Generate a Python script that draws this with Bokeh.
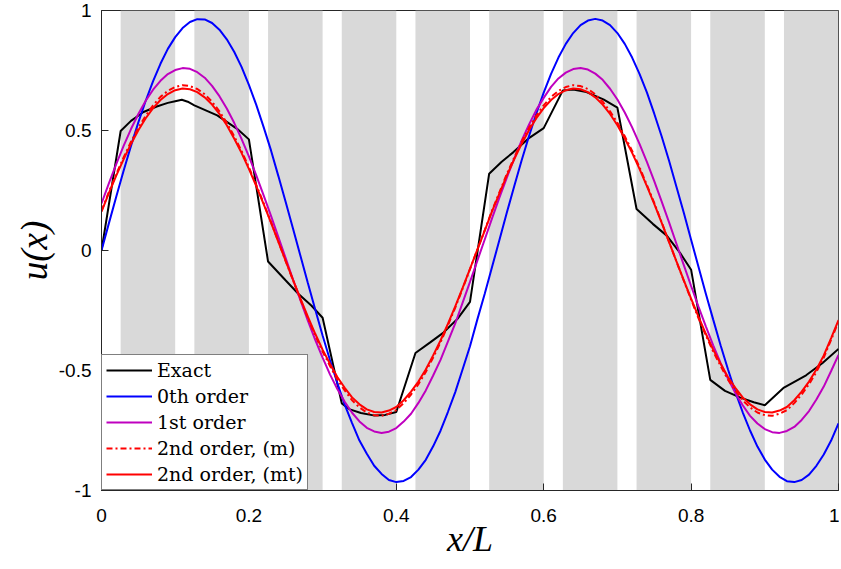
from bokeh.plotting import figure
from bokeh.models import Range1d, FixedTicker, CustomJSTickFormatter, Legend, LegendItem
from bokeh.embed import file_html
from bokeh.resources import INLINE

# ---------------- data ----------------
x_grid = [round(0.01 * i, 2) for i in range(101)]

zeroth_order = [
    0.000, 0.113, 0.224, 0.332, 0.436, 0.534, 0.624, 0.706, 0.778, 0.840,
    0.889, 0.927, 0.952, 0.964, 0.963, 0.948, 0.920, 0.880, 0.828, 0.765,
    0.690, 0.607, 0.514, 0.417, 0.310, 0.201, 0.090, -0.023, -0.135, -0.246,
    -0.354, -0.456, -0.552, -0.642, -0.719, -0.792, -0.847, -0.897, -0.931, -0.956,
    -0.965, -0.960, -0.944, -0.913, -0.872, -0.816, -0.751, -0.673, -0.590, -0.495,
    -0.399, -0.287, -0.180, -0.068, 0.045, 0.158, 0.268, 0.375, 0.476, 0.571,
    0.658, 0.736, 0.804, 0.861, 0.906, 0.939, 0.958, 0.965, 0.958, 0.939,
    0.906, 0.861, 0.804, 0.736, 0.659, 0.570, 0.476, 0.375, 0.267, 0.158,
    0.045, -0.068, -0.180, -0.288, -0.395, -0.495, -0.589, -0.674, -0.750, -0.817,
    -0.871, -0.913, -0.943, -0.961, -0.965, -0.956, -0.934, -0.897, -0.850, -0.792,
    -0.720]

first_order = [
    0.196, 0.280, 0.360, 0.436, 0.506, 0.569, 0.624, 0.670, 0.707, 0.735,
    0.752, 0.760, 0.757, 0.743, 0.720, 0.686, 0.643, 0.592, 0.532, 0.465,
    0.392, 0.313, 0.230, 0.144, 0.056, -0.033, -0.122, -0.208, -0.292, -0.372,
    -0.446, -0.516, -0.577, -0.630, -0.676, -0.712, -0.739, -0.754, -0.760, -0.755,
    -0.740, -0.713, -0.680, -0.635, -0.583, -0.521, -0.456, -0.380, -0.304, -0.217,
    -0.131, -0.042, 0.046, 0.135, 0.221, 0.304, 0.383, 0.458, 0.524, 0.586,
    0.636, 0.682, 0.717, 0.741, 0.756, 0.760, 0.754, 0.737, 0.711, 0.674,
    0.629, 0.575, 0.513, 0.444, 0.369, 0.289, 0.205, 0.118, 0.029, -0.060,
    -0.148, -0.234, -0.316, -0.395, -0.468, -0.534, -0.594, -0.645, -0.689, -0.721,
    -0.744, -0.757, -0.760, -0.752, -0.735, -0.706, -0.669, -0.621, -0.567, -0.502,
    -0.435]

second_order_m = [
    0.165, 0.244, 0.318, 0.388, 0.453, 0.511, 0.562, 0.605, 0.640, 0.665,
    0.681, 0.689, 0.685, 0.673, 0.651, 0.620, 0.580, 0.532, 0.476, 0.415,
    0.347, 0.273, 0.197, 0.118, 0.037, -0.045, -0.125, -0.205, -0.282, -0.354,
    -0.421, -0.481, -0.538, -0.583, -0.624, -0.654, -0.675, -0.686, -0.689, -0.680,
    -0.665, -0.636, -0.600, -0.557, -0.506, -0.446, -0.383, -0.312, -0.238, -0.159,
    -0.078, 0.004, 0.085, 0.167, 0.243, 0.319, 0.388, 0.453, 0.511, 0.562,
    0.605, 0.640, 0.665, 0.681, 0.689, 0.685, 0.673, 0.651, 0.620, 0.580,
    0.532, 0.476, 0.415, 0.347, 0.273, 0.198, 0.118, 0.037, -0.045, -0.125,
    -0.205, -0.282, -0.354, -0.421, -0.481, -0.538, -0.583, -0.624, -0.654, -0.675,
    -0.686, -0.689, -0.680, -0.665, -0.636, -0.600, -0.557, -0.506, -0.446, -0.372,
    -0.296]

second_order_mt = [
    0.162, 0.239, 0.312, 0.380, 0.444, 0.501, 0.551, 0.593, 0.627, 0.652,
    0.668, 0.675, 0.672, 0.660, 0.638, 0.608, 0.569, 0.522, 0.467, 0.407,
    0.340, 0.268, 0.193, 0.116, 0.036, -0.044, -0.123, -0.201, -0.276, -0.347,
    -0.413, -0.472, -0.527, -0.572, -0.612, -0.641, -0.662, -0.673, -0.675, -0.667,
    -0.652, -0.624, -0.588, -0.546, -0.496, -0.437, -0.375, -0.306, -0.233, -0.156,
    -0.076, 0.004, 0.083, 0.164, 0.238, 0.313, 0.380, 0.444, 0.501, 0.551,
    0.593, 0.627, 0.652, 0.668, 0.675, 0.672, 0.660, 0.638, 0.608, 0.569,
    0.522, 0.467, 0.407, 0.340, 0.268, 0.194, 0.116, 0.036, -0.044, -0.123,
    -0.201, -0.276, -0.347, -0.413, -0.472, -0.527, -0.572, -0.612, -0.641, -0.662,
    -0.673, -0.675, -0.667, -0.652, -0.624, -0.588, -0.546, -0.496, -0.437, -0.365,
    -0.290]

exact_x = [0, 0.026, 0.04, 0.057, 0.075, 0.09, 0.1, 0.109, 0.117, 0.126,
           0.157, 0.184, 0.2, 0.226, 0.25, 0.267, 0.285, 0.3, 0.326, 0.337,
           0.352, 0.369, 0.385, 0.4, 0.426, 0.446, 0.464, 0.483, 0.5, 0.526,
           0.543, 0.559, 0.579, 0.6, 0.626, 0.64, 0.658, 0.681, 0.7, 0.726,
           0.748, 0.767, 0.785, 0.8, 0.826, 0.846, 0.866, 0.885, 0.9, 0.926,
           0.956, 0.978, 1.0]
exact_y = [0.0, 0.498, 0.540, 0.577, 0.600, 0.615, 0.622, 0.628, 0.620, 0.605,
           0.563, 0.507, 0.463, -0.046, -0.125, -0.180, -0.230, -0.280, -0.637, -0.662,
           -0.677, -0.687, -0.685, -0.673, -0.427, -0.383, -0.342, -0.285, -0.214, 0.320,
           0.370, 0.410, 0.466, 0.510, 0.667, 0.671, 0.660, 0.630, 0.595, 0.173,
           0.111, 0.062, -0.010, -0.080, -0.539, -0.585, -0.612, -0.632, -0.645, -0.571,
           -0.520, -0.470, -0.410]

band_left = [0.026, 0.126, 0.226, 0.326, 0.426, 0.526, 0.626, 0.726, 0.826, 0.926]
band_right = [0.1, 0.2, 0.3, 0.4, 0.5, 0.6, 0.7, 0.8, 0.9, 1.0]

x_limits = [0, 1]
y_limits = [-1, 1]
x_ticks = [0, 0.2, 0.4, 0.6, 0.8, 1]
y_ticks = [-1, -0.5, 0, 0.5, 1]

series_labels = ["Exact", "0th order", "1st order", "2nd order, (m)", "2nd order, (mt)"]

# ---------------- figure ----------------
p = figure(width=839, height=566, output_backend="svg", toolbar_location=None,
           x_range=Range1d(*x_limits), y_range=Range1d(*y_limits),
           min_border_left=101, min_border_top=10, min_border_right=1, min_border_bottom=76)

p.background_fill_color = "white"
p.border_fill_color = "white"
p.outline_line_color = "#262626"
p.outline_line_width = 1
p.xgrid.visible = False
p.ygrid.visible = False

p.quad(left=band_left, right=band_right,
       bottom=[y_limits[0]] * len(band_left), top=[y_limits[1]] * len(band_left),
       fill_color="#d9d9d9", line_color=None)

r_exact = p.line(exact_x, exact_y, line_color="black", line_width=2)
r_0 = p.line(x_grid, zeroth_order, line_color="#0000ff", line_width=2)
r_1 = p.line(x_grid, first_order, line_color="#bf00bf", line_width=2)
r_2m = p.line(x_grid, second_order_m, line_color="#ff0000", line_width=2, line_dash="6 3 2 3")
r_2mt = p.line(x_grid, second_order_mt, line_color="#ff0000", line_width=2)

fmt = CustomJSTickFormatter(code="return String(tick);")
for ax, ticks in ((p.xaxis[0], x_ticks), (p.yaxis[0], y_ticks)):
    ax.ticker = FixedTicker(ticks=ticks)
    ax.formatter = fmt
    ax.major_tick_in = 7
    ax.major_tick_out = 0
    ax.minor_tick_line_color = None
    ax.axis_line_color = "#262626"
    ax.major_tick_line_color = "#262626"
    ax.major_label_text_font = "Liberation Sans"
    ax.major_label_text_font_size = "19px"
    ax.major_label_text_color = "black"
    ax.axis_label_text_font = "Liberation Serif"
    ax.axis_label_text_font_style = "italic"
    ax.axis_label_text_color = "black"

p.xaxis[0].axis_label = "x/L"
p.yaxis[0].axis_label = "u(x)"
p.xaxis[0].axis_label_text_font_size = "36px"
p.yaxis[0].axis_label_text_font_size = "37px"
p.xaxis[0].major_label_standoff = 18
p.yaxis[0].major_label_standoff = 10
p.xaxis[0].axis_label_standoff = -6
p.yaxis[0].axis_label_standoff = 1

renderers = [r_exact, r_0, r_1, r_2m, r_2mt]
legend = Legend(items=[LegendItem(label=l, renderers=[r]) for l, r in zip(series_labels, renderers)],
                location="bottom_left")
legend.margin = 0
legend.padding = 4
legend.spacing = 4
legend.glyph_width = 46
legend.glyph_height = 22
legend.label_height = 22
legend.label_standoff = 5
legend.border_line_color = "black"
legend.border_line_width = 1
legend.background_fill_color = "white"
legend.background_fill_alpha = 1
legend.label_text_font = "DejaVu Serif"
legend.label_text_font_size = "19px"
legend.label_text_color = "black"
p.add_layout(legend)

open("out.html", "w").write(file_html(p, INLINE))
